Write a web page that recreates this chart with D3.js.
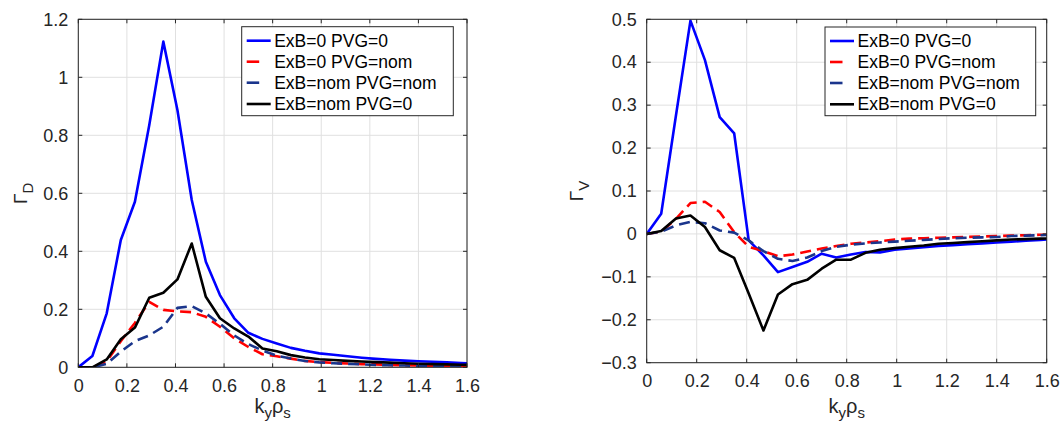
<!DOCTYPE html>
<html><head><meta charset="utf-8">
<script src="https://cdn.jsdelivr.net/npm/d3@7/dist/d3.min.js"></script>
<style>
html,body{margin:0;padding:0;background:#fff;}
svg{display:block;font-family:"Liberation Sans",Arial,Helvetica,sans-serif;}
</style></head>
<body><svg id="c" width="1060" height="428"></svg>
<script>
// ky*rho_s sample points
const k = [0, 0.058, 0.117, 0.175, 0.233, 0.292, 0.35, 0.408, 0.467, 0.525, 0.583, 0.642, 0.7, 0.758, 0.817, 0.875, 0.933, 0.992, 1.05, 1.108, 1.167, 1.225, 1.283, 1.342, 1.4, 1.458, 1.517, 1.575, 1.633];
const seriesNames = ["ExB=0 PVG=0", "ExB=0 PVG=nom", "ExB=nom PVG=nom", "ExB=nom PVG=0"];
// Gamma_D (left)
const gdBlue  = [0, 0.039, 0.186, 0.439, 0.571, 0.835, 1.123, 0.887, 0.577, 0.364, 0.249, 0.169, 0.119, 0.098, 0.082, 0.067, 0.057, 0.048, 0.043, 0.038, 0.033, 0.029, 0.026, 0.023, 0.021, 0.019, 0.017, 0.015, 0.013];
const gdRed   = [0, 0.0, 0.02, 0.09, 0.153, 0.226, 0.198, 0.193, 0.19, 0.174, 0.14, 0.1, 0.07, 0.045, 0.038, 0.03, 0.022, 0.018, 0.015, 0.013, 0.011, 0.01, 0.008, 0.007, 0.006, 0.005, 0.005, 0.004, 0.004];
const gdNavy  = [0, 0, 0.012, 0.054, 0.09, 0.11, 0.14, 0.205, 0.211, 0.186, 0.15, 0.11, 0.08, 0.058, 0.04, 0.03, 0.022, 0.017, 0.014, 0.012, 0.01, 0.008, 0.007, 0.006, 0.005, 0.004, 0.004, 0.003, 0.003];
const gdBlack = [0, 0, 0.027, 0.097, 0.137, 0.24, 0.257, 0.303, 0.427, 0.243, 0.169, 0.134, 0.106, 0.065, 0.055, 0.042, 0.034, 0.028, 0.025, 0.022, 0.02, 0.018, 0.016, 0.014, 0.012, 0.011, 0.01, 0.009, 0.008];
// Gamma_V (right)
const gvBlue  = [0, 0.047, 0.276, 0.497, 0.405, 0.272, 0.234, -0.015, -0.05, -0.089, -0.077, -0.065, -0.046, -0.055, -0.048, -0.042, -0.043, -0.037, -0.034, -0.031, -0.028, -0.026, -0.024, -0.022, -0.02, -0.018, -0.016, -0.014, -0.012];
const gvRed   = [0, 0.005, 0.035, 0.072, 0.075, 0.051, 0.004, -0.03, -0.04, -0.052, -0.048, -0.041, -0.034, -0.028, -0.023, -0.02, -0.017, -0.013, -0.011, -0.01, -0.009, -0.008, -0.007, -0.006, -0.005, -0.004, -0.003, -0.002, -0.002];
const gvNavy  = [0, 0.005, 0.02, 0.028, 0.025, 0.008, 0.003, -0.015, -0.04, -0.058, -0.063, -0.055, -0.04, -0.03, -0.025, -0.022, -0.02, -0.018, -0.016, -0.014, -0.012, -0.01, -0.009, -0.008, -0.007, -0.005, -0.004, -0.003, -0.002];
const gvBlack = [0, 0.007, 0.036, 0.043, 0.016, -0.038, -0.056, -0.139, -0.225, -0.141, -0.117, -0.107, -0.081, -0.06, -0.06, -0.044, -0.037, -0.033, -0.03, -0.027, -0.023, -0.021, -0.019, -0.017, -0.015, -0.013, -0.012, -0.011, -0.01];
// ticks
const xTicks = [0, 0.2, 0.4, 0.6, 0.8, 1, 1.2, 1.4, 1.6];
const yTicksD = [0, 0.2, 0.4, 0.6, 0.8, 1, 1.2];
const yTicksV = [-0.3, -0.2, -0.1, 0, 0.1, 0.2, 0.3, 0.4, 0.5];

const styles = [
  {color: "#0000ff", dash: null},
  {color: "#ff0000", dash: "11,6"},
  {color: "#1a358c", dash: "11,6"},
  {color: "#000000", dash: null}
];
const axisColor = "#262626";
const svg = d3.select("#c");

function panel(opts) {
  const {left, right, top, bottom, yDomain, yTicks, series, ysub, legend, id} = opts;
  const x = d3.scaleLinear().domain([0, 1.6]).range([left, right]);
  const y = d3.scaleLinear().domain(yDomain).range([bottom, top]);
  const g = svg.append("g");
  g.append("rect").attr("x", left).attr("y", top).attr("width", right - left).attr("height", bottom - top).attr("fill", "#fff");
  // grid
  g.append("g").selectAll("line").data(xTicks).join("line")
    .attr("x1", d => x(d)).attr("x2", d => x(d)).attr("y1", top).attr("y2", bottom)
    .attr("stroke", "#e0e0e0").attr("stroke-width", 1);
  g.append("g").selectAll("line").data(yTicks).join("line")
    .attr("y1", d => y(d)).attr("y2", d => y(d)).attr("x1", left).attr("x2", right)
    .attr("stroke", "#e0e0e0").attr("stroke-width", 1);
  // clip
  svg.append("clipPath").attr("id", id).append("rect")
    .attr("x", left).attr("y", top).attr("width", right - left).attr("height", bottom - top);
  const line = d3.line().x((d, i) => x(k[i])).y(d => y(d));
  const lg = g.append("g").attr("clip-path", `url(#${id})`);
  series.forEach((s, i) => {
    lg.append("path").attr("d", line(s)).attr("fill", "none")
      .attr("stroke", styles[i].color).attr("stroke-width", 2.6)
      .attr("stroke-linejoin", "round")
      .attr("stroke-dasharray", styles[i].dash);
  });
  // axes (box)
  const ax = d3.axisBottom(x).tickValues(xTicks).tickSize(0).tickPadding(10).tickFormat(d3.format("~g"));
  const ay = d3.axisLeft(y).tickValues(yTicks).tickSize(0).tickPadding(10).tickFormat(d3.format("~g"));
  const gx = g.append("g").attr("transform", `translate(0,${bottom})`).call(ax);
  const gy = g.append("g").attr("transform", `translate(${left},0)`).call(ay);
  [gx, gy].forEach(a => {
    a.select(".domain").remove();
    a.selectAll("text").attr("fill", axisColor).style("font-size", "18px").style("font-family", '"Liberation Sans",Arial,sans-serif');
  });
  gx.selectAll("text").attr("dy", "0.8em");
  // inward ticks on all sides
  const tl = 4;
  const tg = g.append("g").attr("stroke", axisColor).attr("stroke-width", 1);
  xTicks.forEach(t => {
    tg.append("line").attr("x1", x(t)).attr("x2", x(t)).attr("y1", bottom).attr("y2", bottom - tl);
    tg.append("line").attr("x1", x(t)).attr("x2", x(t)).attr("y1", top).attr("y2", top + tl);
  });
  yTicks.forEach(t => {
    tg.append("line").attr("y1", y(t)).attr("y2", y(t)).attr("x1", left).attr("x2", left + tl);
    tg.append("line").attr("y1", y(t)).attr("y2", y(t)).attr("x1", right).attr("x2", right - tl);
  });
  g.append("rect").attr("x", left).attr("y", top).attr("width", right - left).attr("height", bottom - top)
    .attr("fill", "none").attr("stroke", axisColor).attr("stroke-width", 1);
  // x label
  const xl = g.append("text").attr("x", (left + right) / 2).attr("y", 413).attr("text-anchor", "middle")
    .attr("fill", axisColor).style("font-size", "20px");
  xl.append("tspan").text("k");
  xl.append("tspan").attr("dy", 5).style("font-size", "15px").text("y");
  xl.append("tspan").attr("dy", -5).text("ρ");
  xl.append("tspan").attr("dy", 5).style("font-size", "15px").text("s");
  // y label
  const ycx = opts.ylabX, ycy = (top + bottom) / 2;
  const yl = g.append("text").attr("transform", `translate(${ycx},${ycy}) rotate(-90)`)
    .attr("text-anchor", "middle").attr("fill", axisColor).style("font-size", "19px");
  yl.append("tspan").text("Γ");
  yl.append("tspan").attr("dy", 6).style("font-size", "15px").text(ysub);
  // legend
  const L = legend;
  const lgd = g.append("g");
  lgd.append("rect").attr("x", L.x0).attr("y", L.y0).attr("width", L.x1 - L.x0).attr("height", L.y1 - L.y0)
    .attr("fill", "#fff").attr("stroke", axisColor).attr("stroke-width", 1);
  const rowY = [14, 35, 56, 77.3];
  seriesNames.forEach((nm, i) => {
    const yy = L.y0 + rowY[i];
    lgd.append("line").attr("x1", L.x0 + 5).attr("x2", styles[i].dash ? L.x0 + 17.5 : L.x0 + 29)
      .attr("y1", yy).attr("y2", yy).attr("stroke", styles[i].color).attr("stroke-width", 2.6);
    lgd.append("text").attr("x", L.x0 + 32.5).attr("y", yy).attr("dy", "0.35em")
      .attr("fill", "#000").style("font-size", "17.5px").text(nm);
  });
}

panel({id: "cl", left: 78.3, right: 467, top: 19.3, bottom: 367.3, yDomain: [0, 1.2], yTicks: yTicksD,
  series: [gdBlue, gdRed, gdNavy, gdBlack], ysub: "D", ylabX: 27,
  legend: {x0: 241.7, x1: 453.3, y0: 26.7, y1: 115.7}});
panel({id: "cr", left: 646.7, right: 1046.7, top: 19.3, bottom: 362.7, yDomain: [-0.3, 0.5], yTicks: yTicksV,
  series: [gvBlue, gvRed, gvNavy, gvBlack], ysub: "V", ylabX: 583,
  legend: {x0: 825, x1: 1035.7, y0: 27, y1: 115.7}});
</script>
</body></html>
